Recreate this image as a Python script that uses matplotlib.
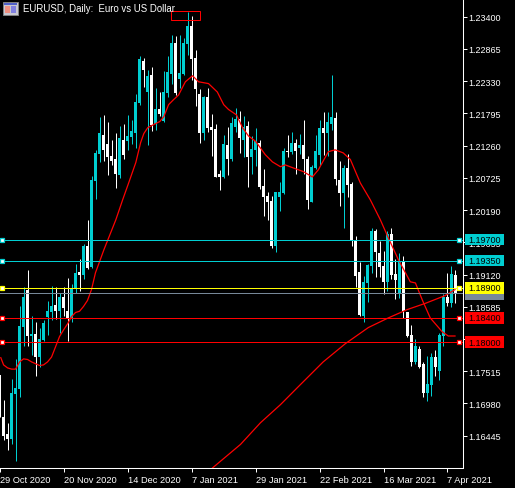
import numpy as np
import matplotlib
matplotlib.use('Agg')
import matplotlib.pyplot as plt
from matplotlib.patches import Rectangle

# daily candles, first one is the half hidden bar at the left edge
opens = [1.1746, 1.1675, 1.1647, 1.1639, 1.1714, 1.1722, 1.1825, 1.1887, 1.1810, 1.1813, 1.1775, 1.1804, 1.1841, 1.1849, 1.1862,
         1.1851, 1.1875, 1.1851, 1.1839, 1.1890, 1.1917, 1.1912, 1.1960, 1.1925, 1.2067, 1.2112, 1.2144, 1.2129, 1.2109, 1.2103,
         1.2078, 1.2136, 1.2134, 1.2141, 1.2147, 1.2197, 1.2267, 1.2215, 1.2244, 1.2162, 1.2186, 1.2167, 1.2214, 1.2245, 1.2297,
         1.2237, 1.2245, 1.2295, 1.2325, 1.2272, 1.2212, 1.2147, 1.2207, 1.2157, 1.2154, 1.2079, 1.2074, 1.2127, 1.2103, 1.2157,
         1.2171, 1.2136, 1.2159, 1.2107, 1.2119, 1.2131, 1.2059, 1.2043, 1.2034, 1.1960, 1.2041, 1.2048, 1.2117, 1.2116, 1.2131,
         1.2122, 1.2127, 1.2104, 1.2033, 1.2089, 1.2111, 1.2156, 1.2147, 1.2162, 1.2172, 1.2069, 1.2048, 1.2089, 1.2063, 1.1970,
         1.1917, 1.1844, 1.1898, 1.1927, 1.1985, 1.1948, 1.1927, 1.1900, 1.1980, 1.1913, 1.1880, 1.1935, 1.1849, 1.1812, 1.1767,
         1.1789, 1.1764, 1.1716, 1.1729, 1.1775, 1.1752, 1.1810, 1.1874, 1.1865, 1.1912]
closes = [1.1676, 1.1644, 1.1639, 1.1716, 1.1724, 1.1827, 1.1875, 1.1810, 1.1813, 1.1775, 1.1805, 1.1832, 1.1852, 1.1860, 1.1851,
          1.1875, 1.1857, 1.1839, 1.1888, 1.1915, 1.1912, 1.1960, 1.1923, 1.2069, 1.2114, 1.2147, 1.2119, 1.2107, 1.2101, 1.2079,
          1.2139, 1.2111, 1.2142, 1.2150, 1.2199, 1.2269, 1.2252, 1.2242, 1.2161, 1.2186, 1.2179, 1.2215, 1.2249, 1.2297, 1.2214,
          1.2247, 1.2297, 1.2325, 1.2269, 1.2220, 1.2147, 1.2206, 1.2156, 1.2152, 1.2074, 1.2074, 1.2129, 1.2103, 1.2164, 1.2171,
          1.2139, 1.2157, 1.2107, 1.2121, 1.2134, 1.2058, 1.2041, 1.2033, 1.1960, 1.2049, 1.2049, 1.2117, 1.2116, 1.2131, 1.2117,
          1.2127, 1.2104, 1.2036, 1.2091, 1.2117, 1.2156, 1.2147, 1.2166, 1.2174, 1.2071, 1.2048, 1.2089, 1.2061, 1.1970, 1.1910,
          1.1845, 1.1900, 1.1928, 1.1985, 1.1950, 1.1925, 1.1900, 1.1980, 1.1912, 1.1903, 1.1935, 1.1851, 1.1810, 1.1766, 1.1794,
          1.1759, 1.1716, 1.1731, 1.1775, 1.1759, 1.1812, 1.1874, 1.1865, 1.1913, 1.1880]
highs = [1.1746, 1.1704, 1.1666, 1.1739, 1.1771, 1.1860, 1.1891, 1.1920, 1.1844, 1.1834, 1.1824, 1.1837, 1.1868, 1.1893, 1.1891,
         1.1882, 1.1891, 1.1907, 1.1896, 1.1930, 1.1937, 1.1963, 1.2003, 1.2076, 1.2119, 1.2174, 1.2177, 1.2166, 1.2136, 1.2147,
         1.2159, 1.2162, 1.2177, 1.2169, 1.2212, 1.2274, 1.2272, 1.2252, 1.2257, 1.2222, 1.2215, 1.2250, 1.2275, 1.2310, 1.2308,
         1.2310, 1.2305, 1.2348, 1.2342, 1.2285, 1.2220, 1.2209, 1.2222, 1.2179, 1.2162, 1.2086, 1.2144, 1.2157, 1.2174, 1.2189,
         1.2184, 1.2176, 1.2167, 1.2142, 1.2156, 1.2136, 1.2088, 1.2049, 1.2043, 1.2049, 1.2066, 1.2122, 1.2144, 1.2149, 1.2137,
         1.2146, 1.2169, 1.2109, 1.2094, 1.2144, 1.2169, 1.2181, 1.2181, 1.2244, 1.2182, 1.2101, 1.2094, 1.2112, 1.2066, 1.1976,
         1.1932, 1.1910, 1.1930, 1.1990, 1.1988, 1.1968, 1.1951, 1.1985, 1.1990, 1.1937, 1.1947, 1.1942, 1.1849, 1.1829, 1.1805,
         1.1794, 1.1766, 1.1777, 1.1781, 1.1787, 1.1815, 1.1879, 1.1915, 1.1927, 1.1920]
lows = [1.1676, 1.1638, 1.1621, 1.1631, 1.1602, 1.1709, 1.1794, 1.1794, 1.1779, 1.1744, 1.1758, 1.1801, 1.1812, 1.1837, 1.1839,
        1.1815, 1.1844, 1.1801, 1.1834, 1.1882, 1.1884, 1.1905, 1.1922, 1.1923, 1.2037, 1.2099, 1.2101, 1.2078, 1.2094, 1.2056,
        1.2072, 1.2104, 1.2119, 1.2129, 1.2122, 1.2194, 1.2224, 1.2127, 1.2151, 1.2152, 1.2176, 1.2166, 1.2206, 1.2229, 1.2210,
        1.2222, 1.2244, 1.2277, 1.2235, 1.2192, 1.2131, 1.2136, 1.2149, 1.2109, 1.2074, 1.2053, 1.2072, 1.2078, 1.2101, 1.2149,
        1.2114, 1.2107, 1.2058, 1.2079, 1.2093, 1.2054, 1.2010, 1.2003, 1.1956, 1.1950, 1.2018, 1.2046, 1.2107, 1.2112, 1.2079,
        1.2112, 1.2079, 1.2021, 1.2033, 1.2088, 1.2094, 1.2111, 1.2109, 1.2152, 1.2061, 1.2026, 1.1990, 1.2041, 1.1960, 1.1891,
        1.1844, 1.1834, 1.1867, 1.1915, 1.1908, 1.1908, 1.1880, 1.1885, 1.1905, 1.1872, 1.1873, 1.1840, 1.1809, 1.1761, 1.1764,
        1.1757, 1.1709, 1.1702, 1.1711, 1.1744, 1.1737, 1.1794, 1.1860, 1.1858, 1.1865]

fast_idx = [-0.8, -0.1, 0.9, 1.9, 2.9, 3.9, 4.9, 5.9, 6.9, 7.9, 8.9, 9.9, 10.9, 11.9, 12.9, 13.9, 14.9, 15.9, 16.9, 17.9, 18.9,
            19.9, 20.9, 21.9, 22.9, 23.9, 25, 26.2, 28, 29.7, 31.2, 33, 34.2, 35, 36, 39, 40, 41.2, 42.4, 43.7, 45.4, 47.2, 48.7,
            51.2, 53.4, 55, 56.2, 58.2, 59.7, 61.2, 63, 65.4, 67.2, 69.2, 70.4, 72.4, 74.9, 77.2, 78.7, 81.2, 82.9, 84.9, 86.7,
            89.2, 91.7, 94.2, 96, 98.7, 101.7, 103, 104.7, 106.7, 109.7, 111.2, 112.9]
fast_ma = [1.1774, 1.1762, 1.1757, 1.1755, 1.1755, 1.1767, 1.1772, 1.1771, 1.1767, 1.1764, 1.1761, 1.1762, 1.1767, 1.1775, 1.1792,
           1.1809, 1.1820, 1.1830, 1.1842, 1.1849, 1.1851, 1.1859, 1.1869, 1.1887, 1.1915, 1.1933, 1.1953, 1.1973, 1.2003, 1.2036,
           1.2064, 1.2098, 1.2131, 1.2146, 1.2156, 1.2166, 1.2174, 1.2194, 1.2202, 1.2210, 1.2232, 1.2242, 1.2232, 1.2229, 1.2215,
           1.2194, 1.2186, 1.2177, 1.2156, 1.2142, 1.2133, 1.2111, 1.2099, 1.2091, 1.2094, 1.2089, 1.2083, 1.2074, 1.2086, 1.2116,
           1.2119, 1.2114, 1.2103, 1.2064, 1.2036, 1.2003, 1.1976, 1.1937, 1.1900, 1.1898, 1.1870, 1.1840, 1.1817, 1.1810, 1.1810]
slow_idx = [52.2, 59.2, 64.2, 69.2, 73.7, 79.9, 85.4, 91.2, 96.2, 101, 105.4, 110.4, 112.9]
slow_ma = [1.1591, 1.1630, 1.1666, 1.1696, 1.1726, 1.1767, 1.1797, 1.1824, 1.1840, 1.1854, 1.1864, 1.1877, 1.1887]

level_prices = [1.19700, 1.19350, 1.18900, 1.18400, 1.18000]
level_labels = ['1.19700', '1.19350', '1.18900', '1.18400', '1.18000']
level_colors = ['#00CED1', '#00CED1', '#FFFF00', '#FF0000', '#FF0000']
bid_price = 1.18811

price_ticks = [1.23400, 1.22865, 1.22330, 1.21795, 1.21260, 1.20725, 1.20190, 1.19655, 1.19120, 1.18585, 1.18050, 1.17515, 1.16980, 1.16445]
date_idx = [-1, 15, 31, 47, 63, 79, 95, 111]
date_labels = ['29 Oct 2020', '20 Nov 2020', '14 Dec 2020', '7 Jan 2021', '29 Jan 2021', '22 Feb 2021', '16 Mar 2021', '7 Apr 2021']

W, H = 515, 489
RIGHT, BOTTOM = 462.5, 468.5
plt.rcParams['font.family'] = ['Liberation Sans', 'DejaVu Sans']
cyan = '#00CED1'

fig = plt.figure(figsize=(W/100, H/100), dpi=100, facecolor='black')
ax = fig.add_axes([0, 1 - BOTTOM/H, RIGHT/W, BOTTOM/H], facecolor='black')
ax.set_xlim(-0.85, 114.775)
ax.set_ylim(1.15917, 1.23694)

idx = np.arange(len(opens)) - 1
opens = np.array(opens)
closes = np.array(closes)
cols = [cyan if c >= o else 'white' for o, c in zip(opens, closes)]
ax.vlines(idx, lows, highs, colors=cols, lw=0.72, zorder=2)
body = np.maximum(np.abs(closes - opens), 0.00017)
ax.bar(idx, body, bottom=np.minimum(opens, closes), width=0.75, color=cols, lw=0, zorder=2)

ax.plot(fast_idx, fast_ma, color='#FF0000', lw=0.9, zorder=3)
ax.plot(slow_idx, slow_ma, color='#FF0000', lw=0.9, zorder=3)

# the box drawn round the top
ax.add_patch(Rectangle((41.9, 1.2335), 7.2, 0.0015, fc='none', ec='#FF0000', lw=0.72, zorder=3))

tr = ax.get_yaxis_transform()
ax.axhline(bid_price, color='#778899', lw=0.72, zorder=3)
for p, c in zip(level_prices, level_colors):
    ax.axhline(p, color=c, lw=0.72, zorder=4)
    ax.plot([1.5/RIGHT, 458.5/RIGHT], [p, p], 's', ms=3.4, mfc='white', mec=c, mew=0.9, transform=tr, clip_on=False, zorder=5)

# price tags sit over the tick labels
tag_x, tag_w = 465/RIGHT, 39/RIGHT
tag_h = 0.0019
ax.add_patch(Rectangle((tag_x, bid_price - tag_h/2 - 0.0002), tag_w, tag_h, fc='#778899', lw=0, transform=tr, clip_on=False, zorder=6))
for p, c, t in zip(level_prices, level_colors, level_labels):
    ax.add_patch(Rectangle((tag_x, p - tag_h/2), tag_w, tag_h, fc=c, lw=0, transform=tr, clip_on=False, zorder=7))
    ax.text(468/RIGHT, p, t, color='black', fontsize=6.5, va='center', ha='left', transform=tr, clip_on=False, zorder=8)

for s in ['top', 'left']:
    ax.spines[s].set_visible(False)
for s in ['right', 'bottom']:
    ax.spines[s].set_color('white')
    ax.spines[s].set_linewidth(0.75)

ax.yaxis.tick_right()
ax.set_yticks(price_ticks)
ax.set_yticklabels(['%.5f' % p for p in price_ticks], fontsize=6.5, color='white')
ax.tick_params(axis='y', length=3, width=0.72, color='white', pad=1.5)
ax.set_xticks(date_idx)
ax.set_xticklabels(date_labels, fontsize=6.7, color='white', ha='left')
ax.tick_params(axis='x', length=3, width=0.72, color='white', pad=2.5)

fig.text(23/W, 1 - 9.5/H, 'EURUSD, Daily:  Euro vs US Dollar', color='white', fontsize=6.95, va='center', ha='left')

# little chart window icon
fig.add_artist(Rectangle((3/W, 1 - 16/H), 15/W, 13/H, fc='#C8C8D0', ec='#808080', lw=0.7, transform=fig.transFigure))
fig.add_artist(Rectangle((4/W, 1 - 6/H), 13/W, 2/H, fc='#5060C8', lw=0, transform=fig.transFigure))
fig.add_artist(Rectangle((5/W, 1 - 14/H), 5/W, 7/H, fc='#F09080', lw=0, transform=fig.transFigure))
fig.add_artist(Rectangle((11/W, 1 - 14/H), 5/W, 7/H, fc='#8080E0', lw=0, transform=fig.transFigure))

fig.savefig('out.png', dpi=100, facecolor='black')
